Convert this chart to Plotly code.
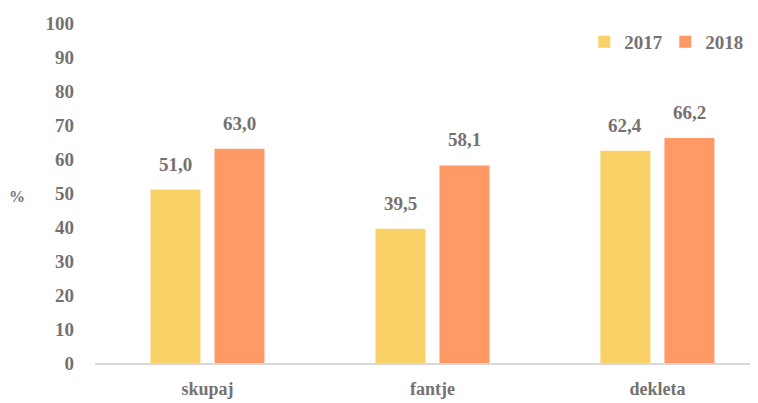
import plotly.graph_objects as go

categories = ["skupaj", "fantje", "dekleta"]
years = ["2017", "2018"]
values_2017 = [51.0, 39.5, 62.4]
values_2018 = [63.0, 58.1, 66.2]
colors = ["#F9D166", "#FF9966"]
y_ticks = list(range(0, 101, 10))

FONT = "Liberation Serif"
TXT = "#757171"

fig = go.Figure()
for yr, vals, col in zip(years, [values_2017, values_2018], colors):
    fig.add_trace(go.Bar(
        name=yr, x=categories, y=vals, marker_color=col,
        marker_line_width=0,
    ))

def fmt(v):
    return f"{v:.1f}".replace(".", ",")

shifts = [-32, 32]
for vals, xs in zip([values_2017, values_2018], shifts):
    for c, v in zip(categories, vals):
        fig.add_annotation(
            x=c, y=v, xref="x", yref="y", text=fmt(v),
            showarrow=False, xshift=xs, yshift=13, yanchor="bottom",
            font=dict(family=FONT, size=19, color=TXT, weight="bold"),
        )

fig.add_annotation(
    xref="paper", yref="y", x=-0.118, y=49, text="%", showarrow=False,
    xanchor="center", yanchor="middle",
    font=dict(family=FONT, size=16, color=TXT, weight="bold"),
)

fig.update_layout(
    width=750, height=395,
    margin=dict(l=87, r=0, t=15, b=40, autoexpand=False),
    paper_bgcolor="white", plot_bgcolor="white",
    barmode="group", bargap=0.431, bargroupgap=0.219,
    font=dict(family=FONT, size=18, color=TXT, weight="bold"),
    showlegend=True,
    legend=dict(
        orientation="h", x=0.738, y=1.0, xanchor="left", yanchor="top",
        font=dict(family=FONT, size=19, color=TXT, weight="bold"),
        entrywidth=36, entrywidthmode="pixels",
        itemwidth=30, tracegroupgap=0, bgcolor="rgba(0,0,0,0)",
    ),
    xaxis=dict(
        range=[-0.5, 2.447], showgrid=False, zeroline=False,
        showline=True, linecolor="#D9D9D9", linewidth=1.5,
        ticks="", tickfont=dict(family=FONT, size=18, color=TXT, weight="bold"),
        ticklabelstandoff=9, automargin=False,
        fixedrange=True,
    ),
    yaxis=dict(
        range=[0, 100], tickvals=y_ticks, showgrid=False, zeroline=False,
        showline=False, ticks="",
        tickfont=dict(family=FONT, size=19, color=TXT, weight="bold"),
        ticklabelstandoff=20, automargin=False,
        fixedrange=True,
    ),
)

fig.write_html("out.html")
